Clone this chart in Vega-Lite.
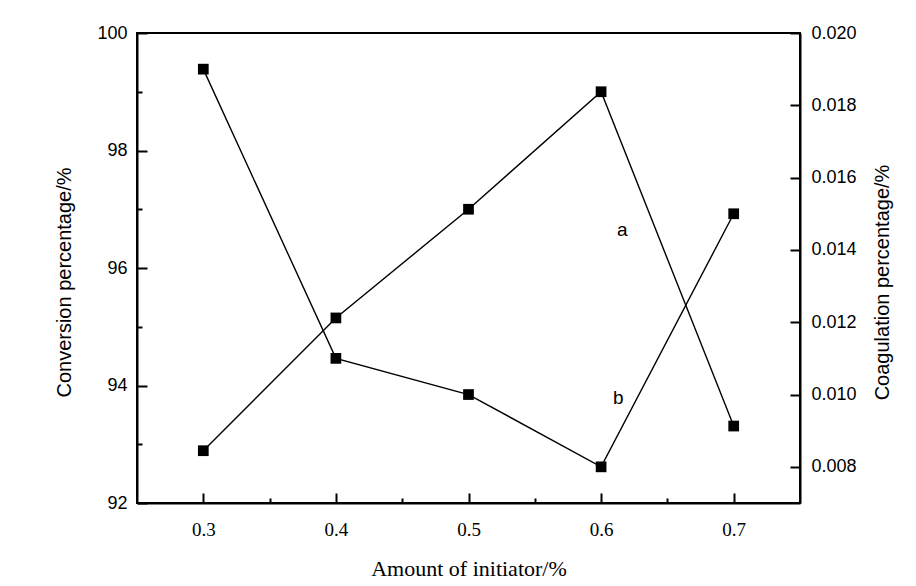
{
  "$schema": "https://vega.github.io/schema/vega-lite/v6.json",
  "width": 663,
  "height": 470,
  "autosize": {"type": "none"},
  "padding": {"left": 137, "top": 33, "right": 116, "bottom": 83},
  "background": "white",
  "config": {
    "view": {"stroke": "black", "strokeWidth": 2},
    "axis": {
      "domainColor": "black",
      "domainWidth": 2,
      "tickColor": "black",
      "tickWidth": 2,
      "grid": false,
      "labelColor": "black",
      "titleColor": "black",
      "titleFontWeight": "normal",
      "labelFlush": false,
      "labelOverlap": false
    }
  },
  "datasets": {
    "main": [
      {"x": 0.3, "conv": 92.89, "coag": 0.019},
      {"x": 0.4, "conv": 95.15, "coag": 0.011},
      {"x": 0.5, "conv": 97.0, "coag": 0.010},
      {"x": 0.6, "conv": 99.0, "coag": 0.008},
      {"x": 0.7, "conv": 93.31, "coag": 0.015}
    ],
    "labels": [
      {"x": 0.616, "y": 96.65, "label": "a"},
      {"x": 0.613, "y": 93.79, "label": "b"}
    ]
  },
  "layer": [
    {
      "layer": [
        {
          "data": {"name": "main"},
          "mark": {"type": "line", "color": "black", "strokeWidth": 1.4},
          "encoding": {
            "x": {"field": "x", "type": "quantitative", "scale": {"domain": [0.25, 0.75], "nice": false, "zero": false},
              "axis": {"title": "Amount of initiator/%", "values": [0.3, 0.35, 0.4, 0.45, 0.5, 0.55, 0.6, 0.65, 0.7],
                "labelExpr": "round(datum.value*100) % 10 === 0 ? format(datum.value, '.1f') : ''",
                "tickSize": {"condition": {"test": "round(datum.value*100) % 10 === 0", "value": -10}, "value": -5},
                "labelPadding": 27, "labelFont": "Liberation Serif", "labelFontSize": 19,
                "titleFont": "Liberation Serif", "titleFontSize": 22, "titlePadding": 14}},
            "y": {"field": "conv", "type": "quantitative", "scale": {"domain": [92, 100], "nice": false, "zero": false},
              "axis": {"orient": "left", "title": "Conversion percentage/%", "values": [92, 93, 94, 95, 96, 97, 98, 99, 100],
                "labelExpr": "datum.value % 2 === 0 ? format(datum.value, 'd') : ''",
                "tickSize": {"condition": {"test": "datum.value % 2 === 0", "value": -10}, "value": -5},
                "labelPadding": 20, "labelFont": "Liberation Sans", "labelFontSize": 18,
                "titleFont": "Liberation Sans", "titleFontSize": 20, "titlePadding": 22, "titleY": 249}}
          }
        },
        {
          "data": {"name": "main"},
          "mark": {"type": "point", "shape": "square", "filled": true, "size": 115, "color": "black", "opacity": 1},
          "encoding": {
            "x": {"field": "x", "type": "quantitative"},
            "y": {"field": "conv", "type": "quantitative"}
          }
        },
        {
          "data": {"name": "labels"},
          "mark": {"type": "text", "font": "Liberation Sans", "fontSize": 19, "color": "black", "align": "center", "baseline": "middle"},
          "encoding": {
            "x": {"field": "x", "type": "quantitative"},
            "y": {"field": "y", "type": "quantitative"},
            "text": {"field": "label"}
          }
        }
      ]
    },
    {
      "data": {"name": "main"},
      "layer": [
        {
          "mark": {"type": "line", "color": "black", "strokeWidth": 1.4},
          "encoding": {
            "x": {"field": "x", "type": "quantitative"},
            "y": {"field": "coag", "type": "quantitative", "scale": {"domain": [0.007, 0.02], "nice": false, "zero": false},
              "axis": {"orient": "right", "title": "Coagulation percentage/%",
                "values": [0.008, 0.009, 0.01, 0.011, 0.012, 0.013, 0.014, 0.015, 0.016, 0.017, 0.018, 0.019, 0.02],
                "labelExpr": "round(datum.value*1000) % 2 === 0 ? format(datum.value, '.3f') : ''",
                "tickSize": {"condition": {"test": "round(datum.value*1000) % 2 === 0", "value": -10}, "value": -5},
                "labelPadding": 21, "labelFont": "Liberation Sans", "labelFontSize": 18,
                "titleFont": "Liberation Sans", "titleFontSize": 20, "titlePadding": 16,
                "titleAngle": -90, "titleBaseline": "top", "titleY": 249}}
          }
        },
        {
          "mark": {"type": "point", "shape": "square", "filled": true, "size": 115, "color": "black", "opacity": 1},
          "encoding": {
            "x": {"field": "x", "type": "quantitative"},
            "y": {"field": "coag", "type": "quantitative"}
          }
        }
      ]
    }
  ],
  "resolve": {"scale": {"y": "independent"}}
}
